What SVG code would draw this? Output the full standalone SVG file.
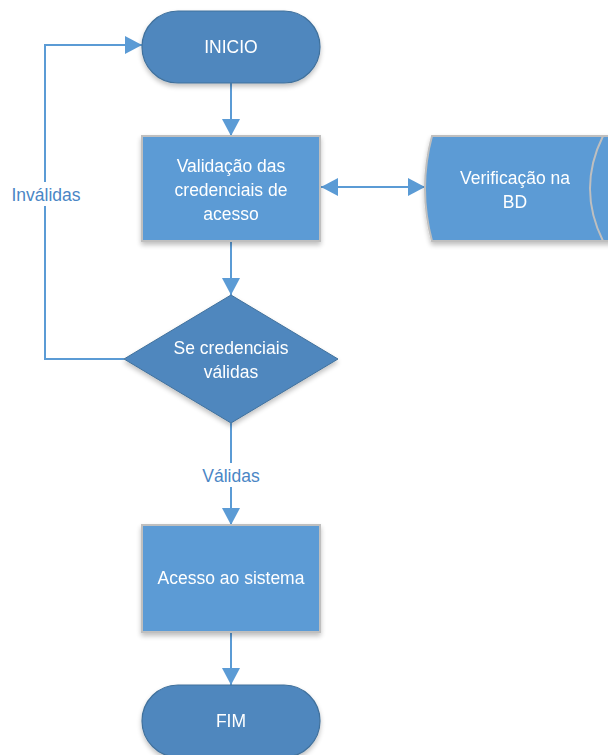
<svg xmlns="http://www.w3.org/2000/svg" width="608" height="755" viewBox="0 0 608 755">
  <defs>
    <filter id="shadow" x="-20%" y="-20%" width="140%" height="150%">
      <feGaussianBlur in="SourceAlpha" stdDeviation="2.5"/>
      <feOffset dx="0" dy="3" result="b"/>
      <feComponentTransfer><feFuncA type="linear" slope="0.25"/></feComponentTransfer>
      <feMerge><feMergeNode/><feMergeNode in="SourceGraphic"/></feMerge>
    </filter>
    <marker id="arrow" viewBox="0 0 17 18" refX="17" refY="9" markerWidth="17" markerHeight="18" markerUnits="userSpaceOnUse" orient="auto-start-reverse">
      <path d="M0,0 L17,9 L0,18 Z" fill="#5b9bd5"/>
    </marker>
    <style>
      .term { fill: #4f87be; stroke: #41719c; stroke-width: 1.2; }
      .proc { fill: #5b9bd5; stroke: #bfbfbf; stroke-width: 2; }
      .dec { fill: #4f87be; stroke: #41719c; stroke-width: 1; }
      .conn { fill: none; stroke: #5b9bd5; stroke-width: 2; }
      .txt { font-family: "Liberation Sans", "DejaVu Sans", sans-serif; font-size: 17.5px; fill: #ffffff; text-anchor: middle; }
      .lbl { font-family: "Liberation Sans", "DejaVu Sans", sans-serif; font-size: 17.5px; fill: #4a86c5; text-anchor: middle; }
    </style>
  </defs>

  <g id="connectors">
    <line class="conn" x1="231" y1="83" x2="231" y2="136" marker-end="url(#arrow)"/>
    <line class="conn" x1="321" y1="187" x2="425" y2="187" marker-start="url(#arrow)" marker-end="url(#arrow)"/>
    <line class="conn" x1="231" y1="241" x2="231" y2="295" marker-end="url(#arrow)"/>
    <polyline class="conn" points="124,359 45,359 45,45 142,45" marker-end="url(#arrow)"/>
    <line class="conn" x1="231" y1="423" x2="231" y2="525" marker-end="url(#arrow)"/>
    <line class="conn" x1="231" y1="632" x2="231" y2="685" marker-end="url(#arrow)"/>
    <rect x="6" y="182" width="80" height="24" fill="#ffffff"/>
    <text class="lbl" x="46" y="201">Inválidas</text>
    <rect x="193" y="463" width="76" height="24" fill="#ffffff"/>
    <text class="lbl" x="231" y="482">Válidas</text>
  </g>

  <g id="inicio" filter="url(#shadow)">
    <rect class="term" x="142" y="11" width="178" height="72" rx="36" ry="36"/>
    <text class="txt" x="231" y="53">INICIO</text>
  </g>

  <g id="validacao" filter="url(#shadow)">
    <rect class="proc" x="142" y="136" width="178" height="105"/>
    <text class="txt" x="231" y="172">Validação das</text>
    <text class="txt" x="231" y="196">credenciais de</text>
    <text class="txt" x="231" y="220">acesso</text>
  </g>

  <g id="verificacao" filter="url(#shadow)">
    <path class="proc" d="M432,136 L614,136 L614,241 L432,241 Q418,188.5 432,136 Z"/>
    <path d="M603,136 Q577,188.5 603,241" fill="none" stroke="#bfbfbf" stroke-width="2"/>
    <text class="txt" x="515" y="184">Verificação na</text>
    <text class="txt" x="515" y="208">BD</text>
  </g>

  <g id="decisao" filter="url(#shadow)">
    <polygon class="dec" points="231,295 338,359 231,423 124,359"/>
    <text class="txt" x="231" y="354">Se credenciais</text>
    <text class="txt" x="231" y="378">válidas</text>
  </g>

  <g id="acesso" filter="url(#shadow)">
    <rect class="proc" x="142" y="525" width="178" height="107"/>
    <text class="txt" x="231" y="584">Acesso ao sistema</text>
  </g>

  <g id="fim" filter="url(#shadow)">
    <rect class="term" x="142" y="685" width="178" height="72" rx="36" ry="36"/>
    <text class="txt" x="231" y="727">FIM</text>
  </g>
</svg>
